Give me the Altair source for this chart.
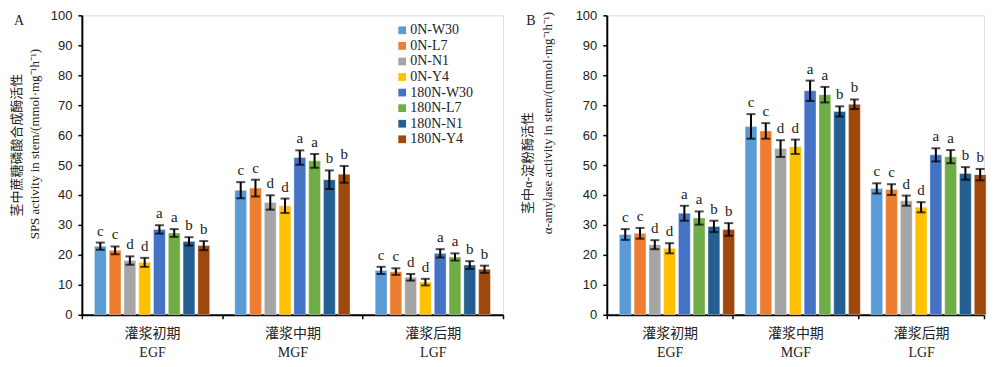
import altair as alt
import pandas as pd

groups = ["EGF", "MGF", "LGF"]
group_cn = ["灌浆初期", "灌浆中期", "灌浆后期"]
cultivars = ["0N-W30", "0N-L7", "0N-N1", "0N-Y4", "180N-W30", "180N-L7", "180N-N1", "180N-Y4"]
colors = ["#5B9BD5", "#ED7D31", "#A5A5A5", "#FFC000", "#4472C4", "#70AD47", "#255E91", "#9E480E"]
letters = ["c", "c", "d", "d", "a", "a", "b", "b"]

# Panel A: SPS activity
sps_egf = [22.9, 21.5, 18.1, 17.5, 28.5, 27.3, 24.5, 23.1]
sps_egf_err = [1.2, 1.3, 1.4, 1.5, 1.4, 1.3, 1.4, 1.5]
sps_mgf = [41.6, 42.3, 37.5, 36.4, 52.5, 51.4, 45.1, 46.9]
sps_mgf_err = [2.7, 2.8, 2.4, 2.4, 2.4, 2.3, 3.1, 2.8]
sps_lgf = [14.8, 14.4, 12.5, 10.9, 20.5, 19.3, 16.6, 15.2]
sps_lgf_err = [1.2, 1.1, 1.1, 1.1, 1.4, 1.2, 1.3, 1.2]

# Panel B: alpha-amylase activity
amy_egf = [26.8, 27.2, 23.4, 22.2, 33.9, 32.3, 29.5, 28.5]
amy_egf_err = [1.8, 1.8, 1.5, 1.7, 2.5, 2.2, 1.9, 2.1]
amy_mgf = [62.9, 61.4, 55.5, 56.1, 74.8, 73.5, 67.9, 70.3]
amy_mgf_err = [4.1, 2.6, 2.8, 2.4, 3.4, 2.6, 1.7, 1.6]
amy_lgf = [42.2, 41.8, 38.1, 35.9, 53.4, 52.8, 47.2, 46.8]
amy_lgf_err = [1.7, 1.8, 1.7, 1.7, 2.2, 2.2, 2.1, 1.9]

SERIF = "Liberation Serif, Times New Roman, Noto Sans CJK SC"
SANS = "Liberation Sans, Arial"


def make_df(vals, errs):
    rows = []
    for g, v, e in zip(groups, vals, errs):
        for c, vv, ee, l in zip(cultivars, v, e, letters):
            rows.append({"group": g, "cultivar": c, "value": vv, "lo": vv - ee, "hi": vv + ee, "letter": l})
    return pd.DataFrame(rows)


label_expr = ("datum.value == 'EGF' ? ['%s', 'EGF'] : datum.value == 'MGF' ? ['%s', 'MGF'] : "
              "datum.value == 'LGF' ? ['%s', 'LGF'] : ''" % tuple(group_cn))


def panel(df, width, cn_title, en_title, cn_pos, en_pos, tag, tag_x, show_legend):
    x = alt.X("group:N", sort=groups, title=None,
              scale=alt.Scale(paddingInner=0, paddingOuter=0),
              axis=alt.Axis(labelAngle=0, labelExpr=label_expr, labelFont=SERIF, labelFontSize=14,
                            labelColor="#222", labelLineHeight=19, labelPadding=8,
                            domainColor="black", domainWidth=2, tickColor="black", tickWidth=1.5,
                            tickSize=4, tickBand="extent"))
    xo = alt.XOffset("cultivar:N", sort=cultivars,
                     scale=alt.Scale(paddingInner=0.2, paddingOuter=0.85))
    y_axis = alt.Axis(values=list(range(0, 101, 10)), grid=False, labelFont=SANS, labelFontSize=13,
                      labelColor="#222", labelPadding=6, labelOverlap=False, domainColor="black",
                      domainWidth=2, tickColor="black", tickWidth=1.5, tickSize=4, title=None)
    yscale = alt.Scale(domain=[0, 100], nice=False)
    legend = None
    if show_legend:
        legend = alt.Legend(title=None, orient="none", legendX=314, legendY=8, symbolType="square",
                            symbolSize=60, symbolStrokeWidth=0, labelFont=SERIF, labelFontSize=14,
                            labelColor="#222", rowPadding=1.6, padding=0, labelOffset=1)
    base = alt.Chart(df)
    bars = base.mark_bar(stroke="white", strokeWidth=0.6, strokeOpacity=0.6).encode(
        x=x, xOffset=xo,
        y=alt.Y("value:Q", scale=yscale, axis=y_axis),
        color=alt.Color("cultivar:N", sort=cultivars,
                        scale=alt.Scale(domain=cultivars, range=colors), legend=legend),
    )
    rule = base.mark_rule(color="black", strokeWidth=2).encode(
        x=x, xOffset=xo, y=alt.Y("lo:Q", scale=yscale, axis=y_axis), y2="hi:Q")
    cap_lo = base.mark_tick(color="black", thickness=2, size=9, orient="horizontal").encode(
        x=x, xOffset=xo, y=alt.Y("lo:Q", scale=yscale, axis=y_axis))
    cap_hi = base.mark_tick(color="black", thickness=2, size=9, orient="horizontal").encode(
        x=x, xOffset=xo, y=alt.Y("hi:Q", scale=yscale, axis=y_axis))
    txt = base.mark_text(font=SERIF, fontSize=15, color="#222", baseline="alphabetic", dy=-7).encode(
        x=x, xOffset=xo, y=alt.Y("hi:Q", scale=yscale, axis=y_axis), text="letter:N")
    tag_mark = alt.Chart(pd.DataFrame({"t": [tag]})).mark_text(
        font=SERIF, fontSize=14, color="#222", align="center", baseline="middle").encode(
        x=alt.value(tag_x), y=alt.value(6), text="t:N")
    cn_mark = alt.Chart(pd.DataFrame({"t": [cn_title]})).mark_text(
        font=SERIF, fontSize=13, color="#222", align="center", baseline="middle", angle=270).encode(
        x=alt.value(cn_pos[0]), y=alt.value(cn_pos[1]), text="t:N")
    en_mark = alt.Chart(pd.DataFrame({"t": [en_title]})).mark_text(
        font=SERIF, fontSize=13, color="#222", align="center", baseline="middle", angle=270).encode(
        x=alt.value(en_pos[0]), y=alt.value(en_pos[1]), text="t:N")
    return alt.layer(bars, rule, cap_lo, cap_hi, txt, tag_mark, cn_mark, en_mark).properties(
        width=width, height=300)


left = panel(make_df([sps_egf, sps_mgf, sps_lgf], [sps_egf_err, sps_mgf_err, sps_lgf_err]), 422,
             "茎中蔗糖磷酸合成酶活性", "SPS activity in stem/(mmol·mg⁻¹h⁻¹)",
             (-65, 130), (-47, 129), "A", -63, True)
right = panel(make_df([amy_egf, amy_mgf, amy_lgf], [amy_egf_err, amy_mgf_err, amy_lgf_err]), 378,
              "茎中α-淀粉酶活性", "α-amylase activity in stem/(mmol·mg⁻¹h⁻¹)",
              (-79, 148), (-59, 108), "B", -76, False)

chart = alt.hconcat(left, right, spacing=16).resolve_scale(color="independent").properties(
    padding={"left": 2, "top": 0, "right": 5, "bottom": 5}
).configure_view(stroke=None).configure(background="white")

chart.save("out.html", embed_options={"renderer": "svg", "actions": False})
